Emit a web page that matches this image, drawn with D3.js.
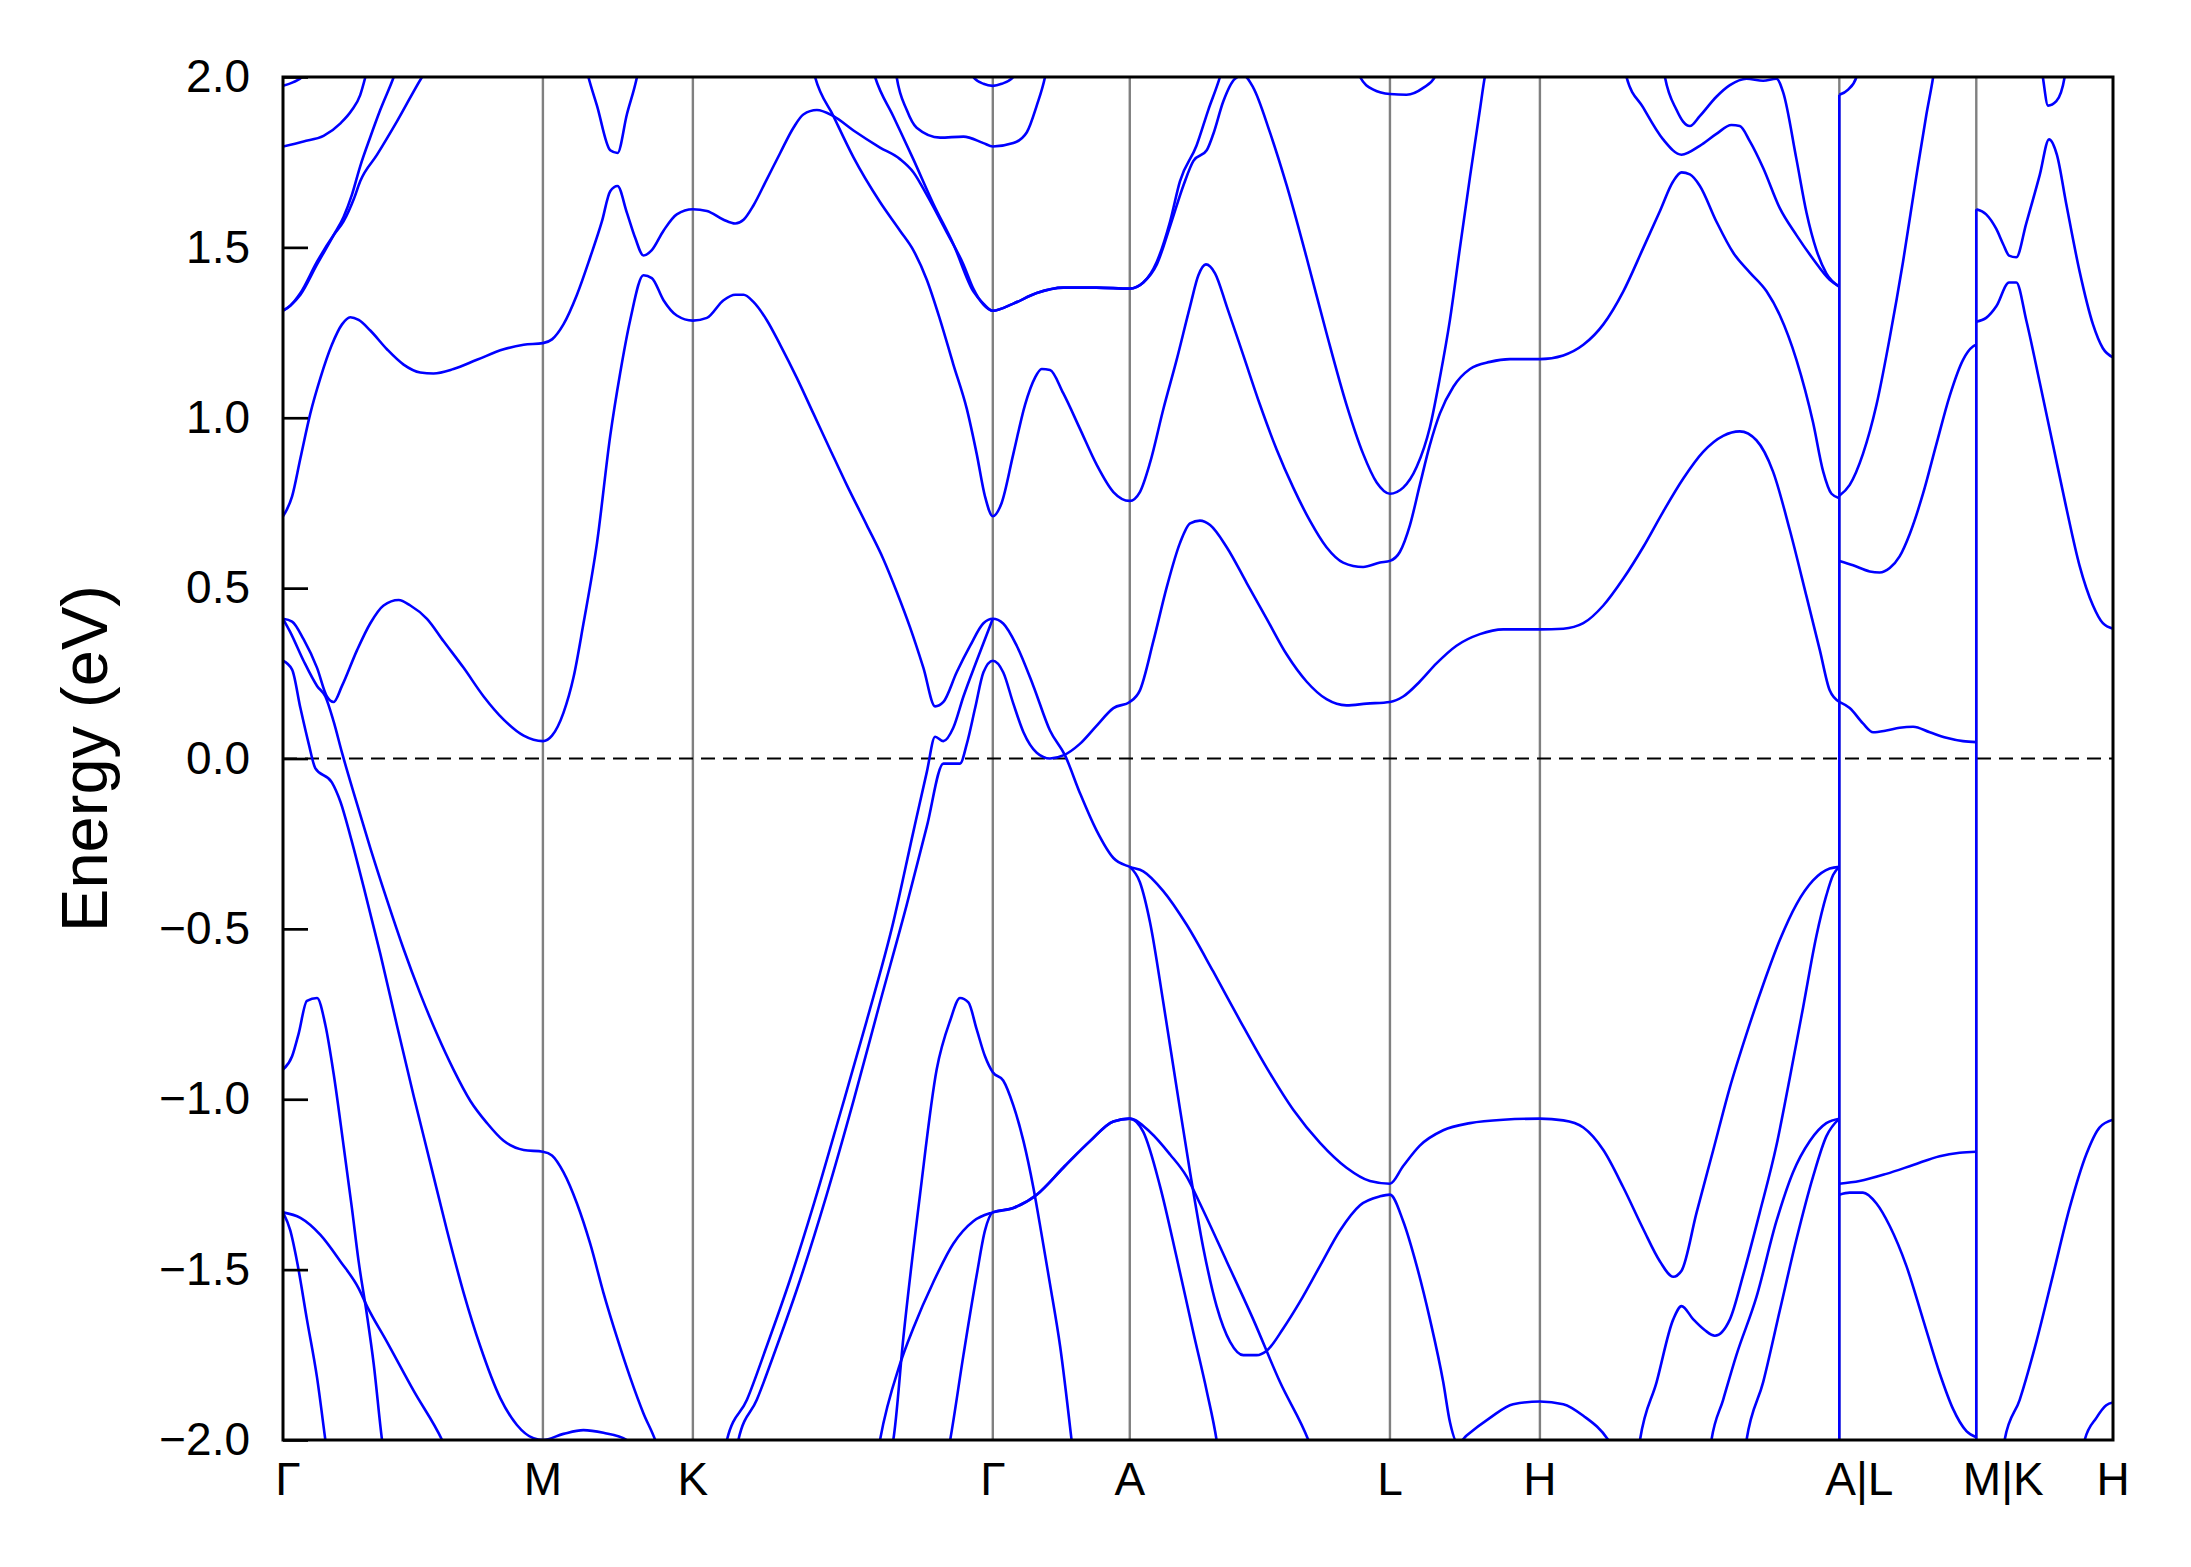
<!DOCTYPE html>
<html>
<head>
<meta charset="utf-8">
<script src="https://cdn.jsdelivr.net/npm/d3@7"></script>
<style>
	body { margin: 0; background: #fff; }
	text { font-family: "Liberation Sans", Arial, Helvetica, sans-serif; }
</style>
</head>
<body>
<div id="chart"></div>
<script>
// k path distance (Gamma-M = 1) of the high symmetry points
const kTicks = [0, 1.000, 1.577, 2.731, 3.258, 4.259, 4.836, 5.988, 6.515, 7.041];
const kLabels = ["Γ", "M", "K", "Γ", "A", "L", "H", "A|L", "M|K", "H"];
const energyTicks = [-2, -1.5, -1, -0.5, 0, 0.5, 1, 1.5, 2];

// bands as [k, energy (eV)]
const band01 = [[0,1.974],[0.04,1.985],[0.073,2.0],[0.10,2.03]];
const band02 = [[0,1.796],[0.079,1.811],[0.156,1.827],[0.221,1.864],[0.265,1.903],[0.297,1.947],[0.317,2.0],[0.33,2.04]];
const band03 = [[0,1.314],[0.028,1.329],[0.067,1.361],[0.131,1.450],[0.195,1.536],[0.233,1.589],[0.265,1.654],[0.297,1.738],[0.336,1.824],[0.374,1.903],[0.426,2.0],[0.44,2.03]];
const band04 = [[0,1.314],[0.028,1.329],[0.067,1.366],[0.131,1.458],[0.195,1.536],[0.233,1.576],[0.272,1.641],[0.297,1.694],[0.362,1.772],[0.438,1.869],[0.535,2.0],[0.56,2.03]];
const band05 = [[0,0.711],[0.035,0.769],[0.067,0.881],[0.105,1.012],[0.144,1.117],[0.188,1.214],[0.227,1.274],[0.259,1.295],[0.291,1.287],[0.336,1.256],[0.400,1.201],[0.464,1.156],[0.528,1.133],[0.579,1.130],[0.656,1.143],[0.746,1.170],[0.849,1.201],[0.926,1.214],[1.0,1.219],[1.035,1.230],[1.079,1.274],[1.131,1.361],[1.182,1.471],[1.227,1.576],[1.259,1.665],[1.287,1.680],[1.323,1.602],[1.355,1.528],[1.387,1.476],[1.419,1.492],[1.464,1.549],[1.515,1.597],[1.577,1.612],[1.631,1.607],[1.695,1.581],[1.740,1.570],[1.772,1.581],[1.810,1.623],[1.861,1.699],[1.913,1.777],[1.964,1.851],[2.002,1.890],[2.054,1.903],[2.118,1.885],[2.195,1.843],[2.297,1.793],[2.374,1.759],[2.426,1.720],[2.477,1.654],[2.554,1.544],[2.618,1.450],[2.656,1.379],[2.695,1.332],[2.731,1.314],[2.810,1.335],[2.900,1.366],[3.002,1.382],[3.130,1.382],[3.258,1.379],[3.310,1.397],[3.362,1.450],[3.413,1.562],[3.464,1.681],[3.503,1.754],[3.554,1.785],[3.579,1.832],[3.618,1.929],[3.663,1.995],[3.695,2.005],[3.733,1.969],[3.797,1.838],[3.862,1.681],[3.938,1.471],[4.015,1.248],[4.092,1.038],[4.156,0.894],[4.208,0.810],[4.259,0.777],[4.310,0.795],[4.362,0.856],[4.413,0.973],[4.451,1.117],[4.490,1.288],[4.528,1.497],[4.567,1.707],[4.605,1.903],[4.624,2.0],[4.635,2.04]];
const band06 = [[2.270,2.02],[2.278,2.0],[2.348,1.885],[2.425,1.759],[2.502,1.628],[2.579,1.510],[2.656,1.371],[2.695,1.335],[2.731,1.314],[2.810,1.335],[2.900,1.366],[3.002,1.382],[3.130,1.382],[3.258,1.379],[3.310,1.397],[3.362,1.458],[3.413,1.576],[3.451,1.694],[3.515,1.799],[3.560,1.903],[3.605,2.0],[3.62,2.04]];
const band07 = [[2.040,2.02],[2.047,2.0],[2.118,1.885],[2.195,1.764],[2.297,1.633],[2.374,1.549],[2.425,1.492],[2.477,1.405],[2.528,1.288],[2.579,1.157],[2.631,1.026],[2.669,0.894],[2.701,0.769],[2.731,0.711],[2.765,0.750],[2.810,0.894],[2.855,1.038],[2.893,1.117],[2.919,1.143],[2.951,1.140],[3.002,1.072],[3.066,0.968],[3.130,0.863],[3.195,0.782],[3.258,0.756],[3.297,0.782],[3.336,0.868],[3.387,1.025],[3.438,1.169],[3.490,1.327],[3.522,1.418],[3.551,1.450],[3.586,1.424],[3.631,1.327],[3.695,1.183],[3.759,1.038],[3.823,0.907],[3.887,0.795],[3.951,0.698],[4.015,0.620],[4.079,0.575],[4.156,0.562],[4.221,0.575],[4.259,0.580],[4.297,0.606],[4.336,0.685],[4.374,0.803],[4.413,0.921],[4.451,1.012],[4.503,1.091],[4.567,1.143],[4.644,1.164],[4.721,1.172],[4.836,1.172],[4.926,1.183],[5.003,1.214],[5.080,1.274],[5.157,1.371],[5.233,1.497],[5.298,1.607],[5.349,1.694],[5.381,1.720],[5.413,1.714],[5.451,1.681],[5.515,1.576],[5.580,1.484],[5.644,1.426],[5.708,1.371],[5.759,1.301],[5.823,1.170],[5.887,0.986],[5.926,0.842],[5.958,0.777],[5.988,0.764]];
const band08 = [[2.355,2.03],[2.361,2.0],[2.400,1.903],[2.438,1.851],[2.528,1.822],[2.618,1.825],[2.695,1.806],[2.731,1.796],[2.810,1.806],[2.862,1.838],[2.900,1.916],[2.932,2.0],[2.94,2.03]];
const band09 = [[2.645,2.03],[2.656,2.0],[2.695,1.980],[2.731,1.974],[2.765,1.980],[2.810,2.0],[2.82,2.03]];
const band10 = [[1.165,2.03],[1.175,2.0],[1.208,1.916],[1.259,1.785],[1.287,1.777],[1.323,1.890],[1.362,2.0],[1.37,2.03]];
const band11 = [[0,0.410],[0.035,0.402],[0.079,0.350],[0.131,0.266],[0.169,0.182],[0.195,0.166],[0.227,0.213],[0.285,0.318],[0.336,0.397],[0.387,0.449],[0.445,0.465],[0.490,0.449],[0.554,0.410],[0.618,0.344],[0.695,0.266],[0.772,0.182],[0.849,0.114],[0.926,0.067],[1.0,0.051],[1.035,0.067],[1.079,0.134],[1.118,0.239],[1.156,0.396],[1.208,0.632],[1.259,0.947],[1.297,1.130],[1.336,1.287],[1.387,1.418],[1.419,1.410],[1.464,1.345],[1.515,1.300],[1.577,1.285],[1.631,1.293],[1.695,1.345],[1.740,1.361],[1.772,1.361],[1.810,1.340],[1.861,1.287],[1.913,1.214],[1.977,1.117],[2.041,1.012],[2.105,0.907],[2.169,0.803],[2.246,0.685],[2.310,0.585],[2.362,0.488],[2.413,0.384],[2.464,0.266],[2.509,0.153],[2.541,0.166],[2.592,0.253],[2.644,0.331],[2.695,0.397],[2.731,0.410],[2.771,0.396],[2.823,0.331],[2.887,0.213],[2.951,0.082],[3.009,0.009],[3.066,-0.101],[3.130,-0.211],[3.195,-0.292],[3.258,-0.318],[3.310,-0.331],[3.387,-0.389],[3.477,-0.488],[3.579,-0.625],[3.682,-0.769],[3.785,-0.908],[3.887,-1.031],[3.990,-1.128],[4.092,-1.201],[4.182,-1.240],[4.259,-1.248],[4.310,-1.196],[4.374,-1.136],[4.464,-1.091],[4.567,-1.070],[4.695,-1.060],[4.836,-1.057],[4.926,-1.062],[5.003,-1.083],[5.080,-1.149],[5.157,-1.259],[5.233,-1.380],[5.298,-1.476],[5.349,-1.521],[5.381,-1.503],[5.439,-1.332],[5.503,-1.149],[5.567,-0.965],[5.631,-0.808],[5.695,-0.664],[5.759,-0.533],[5.823,-0.428],[5.887,-0.358],[5.951,-0.323],[5.988,-0.318]];
const band12 = [[0,0.410],[0.028,0.371],[0.079,0.287],[0.131,0.213],[0.163,0.182],[0.195,0.108],[0.227,0.017],[0.272,-0.101],[0.336,-0.263],[0.400,-0.415],[0.464,-0.559],[0.528,-0.690],[0.592,-0.808],[0.656,-0.913],[0.721,-1.005],[0.785,-1.070],[0.849,-1.122],[0.926,-1.149],[1.0,-1.154],[1.035,-1.165],[1.079,-1.214],[1.131,-1.306],[1.182,-1.424],[1.233,-1.568],[1.285,-1.699],[1.336,-1.817],[1.387,-1.922],[1.432,-2.0],[1.45,-2.04]];
const band13 = [[0,0.287],[0.035,0.261],[0.067,0.148],[0.099,0.043],[0.124,-0.028],[0.188,-0.070],[0.221,-0.127],[0.259,-0.227],[0.310,-0.376],[0.374,-0.572],[0.438,-0.782],[0.503,-0.991],[0.567,-1.188],[0.631,-1.385],[0.695,-1.568],[0.759,-1.725],[0.836,-1.877],[0.900,-1.956],[0.964,-1.995],[1.0,-2.0],[1.079,-1.982],[1.156,-1.971],[1.233,-1.979],[1.323,-2.0],[1.35,-2.02]];
const band14 = [[0,-0.913],[0.035,-0.874],[0.060,-0.808],[0.092,-0.711],[0.131,-0.703],[0.163,-0.782],[0.195,-0.926],[0.233,-1.136],[0.265,-1.319],[0.291,-1.476],[0.323,-1.633],[0.349,-1.777],[0.381,-2.0],[0.39,-2.05]];
const band15 = [[0,-1.332],[0.028,-1.385],[0.054,-1.476],[0.092,-1.646],[0.131,-1.817],[0.163,-2.0],[0.17,-2.04]];
const band16 = [[0,-1.332],[0.067,-1.348],[0.144,-1.398],[0.221,-1.476],[0.291,-1.555],[0.323,-1.607],[0.400,-1.712],[0.503,-1.856],[0.612,-2.0],[0.63,-2.03]];
const band17 = [[1.70,-2.03],[1.708,-2.0],[1.785,-1.882],[1.861,-1.725],[1.951,-1.529],[2.041,-1.311],[2.143,-1.044],[2.246,-0.769],[2.348,-0.481],[2.425,-0.216],[2.477,-0.040],[2.509,0.064],[2.541,0.051],[2.579,0.090],[2.618,0.182],[2.669,0.287],[2.731,0.410]];
const band18 = [[1.745,-2.03],[1.752,-2.0],[1.823,-1.882],[1.900,-1.725],[1.990,-1.529],[2.092,-1.280],[2.195,-1.005],[2.297,-0.716],[2.400,-0.429],[2.477,-0.200],[2.541,-0.015],[2.605,-0.015],[2.631,0.043],[2.663,0.148],[2.695,0.253],[2.731,0.287],[2.771,0.253],[2.810,0.161],[2.849,0.077],[2.900,0.017],[2.951,0.0],[3.002,0.009],[3.066,0.043],[3.130,0.096],[3.195,0.148],[3.258,0.166],[3.297,0.200],[3.349,0.345],[3.400,0.502],[3.451,0.632],[3.490,0.690],[3.528,0.698],[3.567,0.685],[3.631,0.620],[3.708,0.515],[3.785,0.410],[3.862,0.305],[3.938,0.226],[4.015,0.174],[4.092,0.156],[4.169,0.161],[4.259,0.166],[4.310,0.182],[4.374,0.226],[4.438,0.279],[4.515,0.331],[4.605,0.365],[4.695,0.379],[4.836,0.379],[4.926,0.381],[5.003,0.397],[5.080,0.449],[5.157,0.528],[5.233,0.620],[5.310,0.724],[5.387,0.821],[5.464,0.900],[5.541,0.947],[5.605,0.960],[5.669,0.934],[5.733,0.842],[5.797,0.672],[5.862,0.475],[5.913,0.318],[5.951,0.200],[5.988,0.166]];
const band19 = [[2.340,-2.03],[2.348,-2.0],[2.387,-1.699],[2.451,-1.280],[2.515,-0.913],[2.567,-0.769],[2.605,-0.703],[2.637,-0.716],[2.669,-0.795],[2.701,-0.874],[2.731,-0.921],[2.771,-0.945],[2.810,-1.018],[2.849,-1.123],[2.887,-1.259],[2.919,-1.398],[2.951,-1.542],[2.990,-1.725],[3.034,-2.0],[3.04,-2.04]];
const band20 = [[2.29,-2.03],[2.297,-2.0],[2.374,-1.777],[2.425,-1.672],[2.502,-1.537],[2.579,-1.424],[2.656,-1.358],[2.731,-1.332],[2.810,-1.319],[2.900,-1.280],[3.002,-1.201],[3.105,-1.123],[3.195,-1.065],[3.258,-1.057],[3.336,-1.096],[3.413,-1.162],[3.477,-1.227],[3.528,-1.306],[3.631,-1.476],[3.733,-1.646],[3.836,-1.830],[3.945,-2.0],[3.96,-2.03]];
const band21 = [[2.560,-2.03],[2.567,-2.0],[2.618,-1.751],[2.669,-1.516],[2.701,-1.385],[2.731,-1.332],[2.810,-1.319],[2.900,-1.280],[3.002,-1.201],[3.105,-1.123],[3.195,-1.065],[3.258,-1.057],[3.310,-1.096],[3.374,-1.254],[3.438,-1.463],[3.503,-1.686],[3.554,-1.856],[3.592,-2.0],[3.60,-2.04]];
const band22 = [[3.258,-0.318],[3.297,-0.363],[3.336,-0.481],[3.387,-0.716],[3.438,-0.965],[3.490,-1.214],[3.541,-1.437],[3.592,-1.607],[3.644,-1.712],[3.695,-1.751],[3.746,-1.751],[3.785,-1.738],[3.849,-1.672],[3.913,-1.594],[3.990,-1.489],[4.067,-1.385],[4.144,-1.311],[4.221,-1.285],[4.259,-1.280],[4.310,-1.358],[4.362,-1.489],[4.413,-1.646],[4.464,-1.830],[4.490,-1.948],[4.520,-2.01],[4.554,-1.987],[4.644,-1.935],[4.733,-1.895],[4.836,-1.887],[4.926,-1.895],[5.003,-1.929],[5.099,-2.0],[5.13,-2.04]];
const band23 = [[5.215,-2.03],[5.221,-2.0],[5.285,-1.830],[5.349,-1.646],[5.381,-1.607],[5.426,-1.646],[5.471,-1.678],[5.509,-1.694],[5.567,-1.646],[5.618,-1.516],[5.682,-1.332],[5.746,-1.136],[5.797,-0.939],[5.849,-0.729],[5.900,-0.520],[5.938,-0.402],[5.964,-0.342],[5.988,-0.318]];
const band24 = [[5.490,-2.03],[5.496,-2.0],[5.541,-1.882],[5.592,-1.751],[5.669,-1.581],[5.746,-1.358],[5.810,-1.214],[5.874,-1.123],[5.938,-1.070],[5.988,-1.057]];
const band25 = [[5.625,-2.03],[5.631,-2.0],[5.695,-1.830],[5.759,-1.620],[5.823,-1.411],[5.887,-1.227],[5.938,-1.109],[5.988,-1.057]];
const band26 = [[5.16,2.03],[5.169,2.0],[5.233,1.911],[5.310,1.817],[5.381,1.772],[5.451,1.798],[5.515,1.833],[5.573,1.859],[5.605,1.856],[5.644,1.811],[5.695,1.733],[5.759,1.615],[5.823,1.536],[5.887,1.466],[5.951,1.405],[5.988,1.385]];
const band27 = [[5.31,2.03],[5.317,2.0],[5.362,1.903],[5.387,1.869],[5.413,1.856],[5.451,1.885],[5.515,1.942],[5.567,1.976],[5.631,1.995],[5.695,1.989],[5.746,1.995],[5.772,1.955],[5.823,1.759],[5.862,1.601],[5.900,1.492],[5.938,1.424],[5.988,1.385]];
const band28 = [[4.135,2.03],[4.144,2.0],[4.195,1.963],[4.259,1.950],[4.323,1.948],[4.387,1.968],[4.432,2.0],[4.44,2.03]];
const band29 = [[5.988,1.948],[6.022,1.963],[6.054,2.0],[6.06,2.03]];
const band30 = [[5.988,0.771],[6.028,0.803],[6.079,0.894],[6.131,1.038],[6.182,1.235],[6.233,1.457],[6.284,1.707],[6.323,1.890],[6.349,2.0],[6.355,2.03]];
const band31 = [[5.988,0.580],[6.041,0.567],[6.105,0.549],[6.143,0.546],[6.182,0.559],[6.220,0.593],[6.259,0.659],[6.310,0.777],[6.361,0.921],[6.413,1.065],[6.464,1.170],[6.502,1.209],[6.515,1.214]];
const band32 = [[5.988,0.166],[6.028,0.148],[6.079,0.103],[6.118,0.077],[6.169,0.082],[6.220,0.090],[6.272,0.093],[6.336,0.077],[6.400,0.061],[6.464,0.051],[6.515,0.048]];
const band33 = [[5.988,-1.248],[6.066,-1.240],[6.169,-1.219],[6.272,-1.193],[6.374,-1.167],[6.451,-1.157],[6.515,-1.154]];
const band34 = [[5.988,-1.280],[6.028,-1.274],[6.079,-1.274],[6.131,-1.306],[6.182,-1.372],[6.246,-1.489],[6.310,-1.646],[6.374,-1.804],[6.425,-1.908],[6.477,-1.974],[6.515,-1.992]];
const band35 = [[6.515,1.612],[6.553,1.597],[6.592,1.554],[6.618,1.510],[6.641,1.476],[6.669,1.471],[6.707,1.570],[6.759,1.712],[6.795,1.817],[6.825,1.772],[6.861,1.628],[6.912,1.431],[6.964,1.274],[7.002,1.204],[7.041,1.177]];
const band36 = [[6.515,1.282],[6.553,1.293],[6.592,1.327],[6.641,1.397],[6.669,1.397],[6.707,1.287],[6.759,1.104],[6.810,0.921],[6.861,0.737],[6.912,0.567],[6.964,0.449],[7.002,0.397],[7.041,0.381]];
const band37 = [[6.765,2.03],[6.771,2.0],[6.791,1.916],[6.823,1.929],[6.855,2.0],[6.86,2.03]];
const band38 = [[6.618,-2.03],[6.624,-2.0],[6.682,-1.882],[6.746,-1.712],[6.810,-1.516],[6.874,-1.319],[6.938,-1.162],[6.989,-1.083],[7.041,-1.060]];
const band39 = [[6.925,-2.03],[6.932,-2.0],[6.977,-1.935],[7.015,-1.898],[7.041,-1.890]];

const bands = [band01, band02, band03, band04, band05, band06, band07, band08, band09, band10,
	band11, band12, band13, band14, band15, band16, band17, band18, band19, band20,
	band21, band22, band23, band24, band25, band26, band27, band28, band29, band30,
	band31, band32, band33, band34, band35, band36, band37, band38, band39];

// vertical connectors where the path breaks (A|L and M|K)
const jumps = [[5.988, 1.948, -2.05], [6.515, 1.612, -2.05]];

let width = 2191, height = 1567;
let margin = {top: 77, right: 78, bottom: 127, left: 283};
// small horizontal nudges of the k labels, as placed in the original
let labelShift = [5, 0, 0, 0, 0, 0, 0, 20, 27, 0];

let svg = d3.select('#chart').append('svg')
	.attr('width', width)
	.attr('height', height)
	.style('display', 'block')
	.style('background', '#fff');

let x = d3.scaleLinear()
	.domain([kTicks[0], kTicks[kTicks.length - 1]])
	.range([margin.left, width - margin.right]);
let y = d3.scaleLinear()
	.domain([-2, 2])
	.range([height - margin.bottom, margin.top]);

svg.append('defs').append('clipPath')
	.attr('id', 'plotClip')
	.append('rect')
	.attr('x', margin.left)
	.attr('y', margin.top)
	.attr('width', width - margin.left - margin.right)
	.attr('height', height - margin.top - margin.bottom);

let plot = svg.append('g').attr('clip-path', 'url(#plotClip)');

//high symmetry lines
plot.selectAll('line.hsym')
	.data(kTicks.slice(1, -1))
	.join('line')
	.classed('hsym', true)
	.attr('x1', d => x(d))
	.attr('x2', d => x(d))
	.attr('y1', y(2))
	.attr('y2', y(-2))
	.style('stroke', '#808080')
	.style('stroke-width', 2.4);

//fermi level
plot.append('line')
	.attr('x1', x.range()[0])
	.attr('x2', x.range()[1])
	.attr('y1', y(0))
	.attr('y2', y(0))
	.style('stroke', 'black')
	.style('stroke-width', 2.2)
	.style('stroke-dasharray', '14,8');

let line = d3.line()
	.x(d => x(d[0]))
	.y(d => y(d[1]))
	.curve(d3.curveMonotoneX);

plot.selectAll('path.band')
	.data(bands)
	.join('path')
	.classed('band', true)
	.attr('d', line)
	.style('fill', 'none')
	.style('stroke', '#0000ff')
	.style('stroke-width', 2.6)
	.style('stroke-linejoin', 'round');

plot.selectAll('line.jump')
	.data(jumps)
	.join('line')
	.classed('jump', true)
	.attr('x1', d => x(d[0]))
	.attr('x2', d => x(d[0]))
	.attr('y1', d => y(d[1]))
	.attr('y2', d => y(d[2]))
	.style('stroke', '#0000ff')
	.style('stroke-width', 2.6);

//y axis, ticks pointing in
let yAxis = d3.axisLeft(y)
	.tickValues(energyTicks)
	.tickFormat(d3.format('.1f'))
	.tickSize(-25)
	.tickPadding(33);

let yG = svg.append('g')
	.attr('transform', 'translate(' + margin.left + ',0)')
	.call(yAxis);
yG.select('.domain').remove();
yG.selectAll('.tick line')
	.style('stroke', 'black')
	.style('stroke-width', 2.7);
yG.selectAll('.tick text')
	.style('font-size', '46px')
	.style('fill', 'black')
	.style('font-family', '"Liberation Sans", Arial, sans-serif');

//frame
svg.append('rect')
	.attr('x', margin.left)
	.attr('y', margin.top)
	.attr('width', width - margin.left - margin.right)
	.attr('height', height - margin.top - margin.bottom)
	.style('fill', 'none')
	.style('stroke', 'black')
	.style('stroke-width', 3);

//k labels
svg.selectAll('text.klabel')
	.data(kTicks)
	.join('text')
	.classed('klabel', true)
	.attr('x', (d, i) => x(d) + labelShift[i])
	.attr('y', 1495)
	.attr('text-anchor', 'middle')
	.style('font-size', '46px')
	.text((d, i) => kLabels[i]);

svg.append('text')
	.attr('transform', 'translate(107,' + y(0) + ') rotate(-90)')
	.attr('text-anchor', 'middle')
	.style('font-size', '65px')
	.text('Energy (eV)');
</script>
</body>
</html>
